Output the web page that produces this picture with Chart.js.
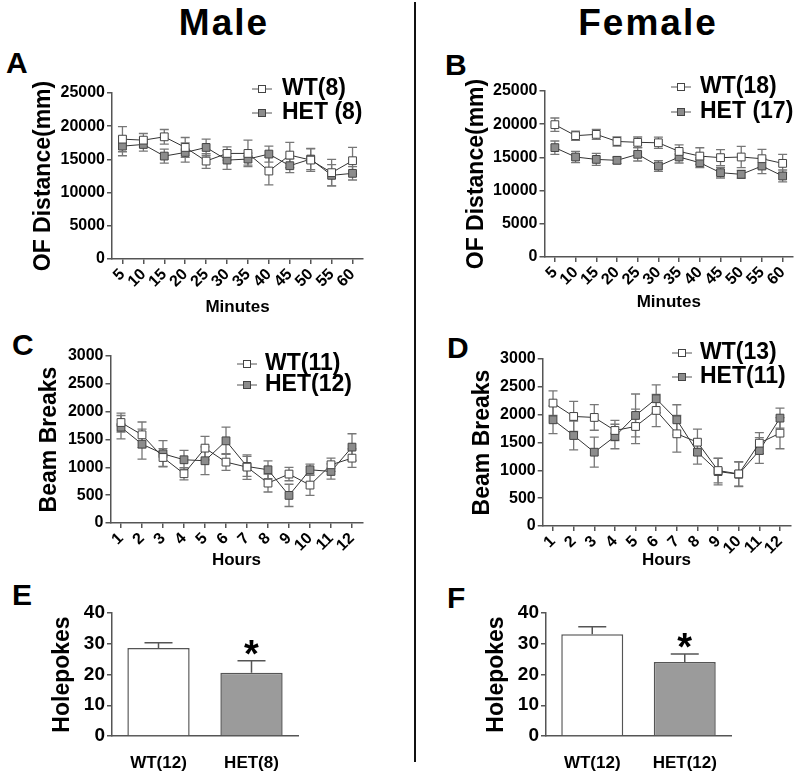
<!DOCTYPE html>
<html>
<head>
<meta charset="utf-8">
<script src="https://cdn.jsdelivr.net/npm/chart.js@4.4.1/dist/chart.umd.min.js"></script>
<style>
  body { margin: 0; background: #fff; }
  #page { position: relative; width: 800px; height: 776px; overflow: hidden; font-family: 'Liberation Sans', Arial, sans-serif; color: #000; }
  .title { position: absolute; width: 200px; text-align: center; font-weight: bold; font-size: 37px; line-height: 37px; letter-spacing: 2px; }
  .tag { position: absolute; font-weight: bold; font-size: 30px; line-height: 30px; }
  canvas { position: absolute; }
  #divider { position: absolute; left: 414px; top: 2px; width: 2px; height: 760px; background: #111; }
</style>
</head>
<body>
<div id="page">
  <div class="title" style="left:124px; top:4px;">Male</div>
  <div class="title" style="left:548px; top:4px;">Female</div>
  <div id="divider"></div>

  <div class="tag" style="left:6px; top:48px;">A</div>
  <div class="tag" style="left:445px; top:50px;">B</div>
  <div class="tag" style="left:12px; top:330px;">C</div>
  <div class="tag" style="left:447px; top:333px;">D</div>
  <div class="tag" style="left:12px; top:580px;">E</div>
  <div class="tag" style="left:447px; top:583px;">F</div>

  <canvas id="chartA" width="400" height="285" style="left:0; top:40px;"></canvas>
  <canvas id="chartB" width="400" height="285" style="left:400px; top:40px;"></canvas>
  <canvas id="chartC" width="400" height="245" style="left:0; top:330px;"></canvas>
  <canvas id="chartD" width="400" height="245" style="left:400px; top:330px;"></canvas>
  <canvas id="chartE" width="400" height="196" style="left:0; top:580px;"></canvas>
  <canvas id="chartF" width="400" height="196" style="left:400px; top:580px;"></canvas>
</div>

<script>
// --- Data ---
const minutes = ['5', '10', '15', '20', '25', '30', '35', '40', '45', '50', '55', '60'];
const hours = ['1', '2', '3', '4', '5', '6', '7', '8', '9', '10', '11', '12'];

// A: male open field
const wtA = [18050, 17900, 18400, 16800, 14750, 15900, 15900, 13250, 15650, 14900, 13000, 14800];
const wtAErr = [1900, 1000, 1100, 1500, 1100, 1000, 2000, 2100, 1900, 1700, 2000, 2000];
const hetA = [17000, 17250, 15500, 16050, 16800, 14900, 15050, 15800, 14050, 15050, 12600, 12900];
const hetAErr = [1450, 1000, 1050, 1450, 1250, 1400, 900, 1200, 1050, 1600, 1600, 1000];

// B: female open field
const wtB = [19930, 18270, 18470, 17400, 17270, 17200, 15900, 15200, 14960, 15060, 14800, 14100];
const wtBErr = [1000, 700, 750, 700, 800, 850, 1000, 1250, 1200, 1600, 1400, 1350];
const hetB = [16470, 15060, 14700, 14560, 15460, 13700, 15060, 14200, 12700, 12450, 13700, 12200];
const hetBErr = [1000, 850, 900, 500, 1000, 800, 900, 750, 800, 600, 1150, 900];

// C: male beam breaks
const wtC = [1805, 1584, 1177, 885, 1345, 1094, 1004, 717, 879, 681, 1046, 1165];
const wtCErr = [170, 230, 160, 110, 210, 150, 220, 160, 120, 185, 120, 165];
const hetC = [1721, 1416, 1243, 1136, 1118, 1476, 1016, 956, 496, 956, 926, 1363];
const hetCErr = [210, 270, 235, 167, 250, 245, 180, 160, 200, 100, 137, 240];

// D: female beam breaks
const wtD = [2208, 1968, 1950, 1716, 1788, 2076, 1656, 1506, 996, 936, 1488, 1668];
const wtDErr = [220, 270, 230, 180, 310, 290, 330, 235, 220, 220, 190, 280];
const hetD = [1908, 1626, 1326, 1608, 1986, 2286, 1908, 1326, 978, 930, 1356, 1938];
const hetDErr = [250, 260, 270, 220, 385, 250, 270, 215, 240, 220, 230, 180];

// E/F: holepokes
const groupsE = ['WT(12)', 'HET(8)'];
const pokesE = [28.6, 20.6];
const pokesEErr = [1.7, 3.9];
const groupsF = ['WT(12)', 'HET(12)'];
const pokesF = [33.1, 24.1];
const pokesFErr = [2.4, 2.6];
const starred = ['', '*'];

// --- Look ---
const AXIS = '#555';
const FONT = "'Liberation Sans', Arial, sans-serif";
Chart.defaults.font.family = FONT;
Chart.defaults.font.weight = 'bold';
Chart.defaults.color = '#000';
Chart.defaults.animation = false;

// error bars drawn behind the markers
const lineErrors = {
  id: 'lineErrors',
  beforeDatasetsDraw(chart) {
    const { ctx } = chart;
    const y = chart.scales.y;
    ctx.save();
    ctx.strokeStyle = '#777';
    ctx.lineWidth = 1.3;
    chart.data.datasets.forEach((ds, i) => {
      chart.getDatasetMeta(i).data.forEach((pt, j) => {
        const top = y.getPixelForValue(ds.data[j] + ds.errors[j]);
        const bot = y.getPixelForValue(ds.data[j] - ds.errors[j]);
        ctx.beginPath();
        ctx.moveTo(pt.x, top); ctx.lineTo(pt.x, bot);
        ctx.moveTo(pt.x - 4.5, top); ctx.lineTo(pt.x + 4.5, top);
        ctx.moveTo(pt.x - 4.5, bot); ctx.lineTo(pt.x + 4.5, bot);
        ctx.stroke();
      });
    });
    ctx.restore();
  }
};

// small legend: line + square + label
const miniLegend = {
  id: 'miniLegend',
  afterDraw(chart, args, opts) {
    if (!opts.rows) return;
    const { ctx } = chart;
    ctx.save();
    ctx.font = `bold 23px ${FONT}`;
    ctx.textBaseline = 'middle';
    chart.data.datasets.forEach((ds, i) => {
      const y = opts.rows[i];
      ctx.strokeStyle = '#555';
      ctx.lineWidth = 1;
      ctx.beginPath();
      ctx.moveTo(opts.x - 10, y); ctx.lineTo(opts.x + 10, y);
      ctx.stroke();
      ctx.fillStyle = ds.pointBackgroundColor;
      ctx.fillRect(opts.x - 3.5, y - 3.5, 7, 7);
      ctx.strokeStyle = '#444';
      ctx.strokeRect(opts.x - 3.5, y - 3.5, 7, 7);
      ctx.fillStyle = '#000';
      ctx.fillText(ds.label, opts.textX, y);
    });
    ctx.restore();
  }
};

// upward error bar + significance star on bars
const barErrors = {
  id: 'barErrors',
  afterDatasetsDraw(chart) {
    const { ctx } = chart;
    const y = chart.scales.y;
    const ds = chart.data.datasets[0];
    ctx.save();
    ctx.strokeStyle = '#555';
    ctx.lineWidth = 1.5;
    ctx.fillStyle = '#000';
    ctx.font = `bold 38px ${FONT}`;
    ctx.textAlign = 'center';
    ctx.textBaseline = 'alphabetic';
    chart.getDatasetMeta(0).data.forEach((bar, j) => {
      const top = y.getPixelForValue(ds.data[j] + ds.errors[j]);
      ctx.beginPath();
      ctx.moveTo(bar.x, bar.y); ctx.lineTo(bar.x, top);
      ctx.moveTo(bar.x - 14, top); ctx.lineTo(bar.x + 14, top);
      ctx.stroke();
      if (ds.marks[j]) ctx.fillText(ds.marks[j], bar.x, top + 6);
    });
    ctx.restore();
  }
};

function yAxis(max, step, text, look, tickSize) {
  return {
    min: 0, max: max,
    ticks: { stepSize: step, padding: 2, font: { size: tickSize, weight: 'bold' }, callback: v => String(v) },
    grid: { drawOnChartArea: false, tickLength: 5, color: AXIS, lineWidth: 1.5 },
    border: { color: AXIS, width: 1.5 },
    title: { display: true, text: text, font: { size: 23, weight: 'bold' }, padding: { top: look.yTitlePad, bottom: 0 } },
    afterFit: s => { s.width = look.yW; }
  };
}

function lineChart(id, labels, wt, wtErr, het, hetErr, names, yMax, step, yTitle, xTitle, look) {
  const point = { borderColor: '#333', borderWidth: 1, pointStyle: 'rect', pointRadius: 5.5, pointBorderColor: '#444', pointBorderWidth: 1 };
  return new Chart(document.getElementById(id), {
    type: 'line',
    data: {
      labels: labels,
      datasets: [
        { ...point, label: names[0], data: wt, errors: wtErr, pointBackgroundColor: '#fff' },
        { ...point, label: names[1], data: het, errors: hetErr, pointBackgroundColor: '#8c8c8c' }
      ]
    },
    options: {
      responsive: false,
      layout: { padding: { top: look.top, right: look.right, left: 0, bottom: 0 } },
      plugins: { legend: { display: false }, tooltip: { enabled: false }, miniLegend: look.legend },
      scales: {
        x: {
          offset: true,
          grid: { drawOnChartArea: false, tickLength: 5, color: AXIS, lineWidth: 1.5 },
          border: { color: AXIS, width: 1.5 },
          ticks: { autoSkip: false, minRotation: 45, maxRotation: 45, padding: 1, font: { size: 16, weight: 'bold' } },
          title: { display: true, text: xTitle, font: { size: 17, weight: 'bold' }, padding: { top: 0, bottom: look.xTitlePad } },
          afterFit: s => { s.height = look.xH; }
        },
        y: yAxis(yMax, step, yTitle, look, 16)
      }
    },
    plugins: [lineErrors, miniLegend]
  });
}

function barChart(id, groups, means, errs, look) {
  return new Chart(document.getElementById(id), {
    type: 'bar',
    data: {
      labels: groups,
      datasets: [{
        data: means, errors: errs, marks: starred,
        backgroundColor: ['#fff', '#9b9b9b'],
        borderColor: '#555', borderWidth: 1.5,
        barPercentage: 0.67, categoryPercentage: 1
      }]
    },
    options: {
      responsive: false,
      layout: { padding: { top: look.top, right: look.right, left: 0, bottom: 0 } },
      plugins: { legend: { display: false }, tooltip: { enabled: false } },
      scales: {
        x: {
          grid: { display: false, drawTicks: false },
          border: { display: true, color: AXIS, width: 1.5 },
          ticks: { padding: 17, font: { size: 17, weight: 'bold' } },
          afterFit: s => { s.height = look.xH; }
        },
        y: yAxis(40, 10, 'Holepokes', look, 19)
      }
    },
    plugins: [barErrors]
  });
}

lineChart('chartA', minutes, wtA, wtAErr, hetA, hetAErr, ['WT(8)', 'HET (8)'], 25000, 5000, 'OF Distance(mm)', 'Minutes',
  { top: 53, right: 37, yW: 112, xH: 66, yTitlePad: 30, xTitlePad: 7.8, legend: { x: 262, textX: 282, rows: [49, 73] } });
lineChart('chartB', minutes, wtB, wtBErr, hetB, hetBErr, ['WT(18)', 'HET (17)'], 25000, 5000, 'OF Distance(mm)', 'Minutes',
  { top: 51, right: 7, yW: 144.5, xH: 68, yTitlePad: 63, xTitlePad: 12.8, legend: { x: 281, textX: 300, rows: [47, 72] } });
lineChart('chartC', hours, wtC, wtCErr, hetC, hetCErr, ['WT(11)', 'HET(12)'], 3000, 500, 'Beam Breaks', 'Hours',
  { top: 26, right: 37.5, yW: 110.5, xH: 52, yTitlePad: 36, xTitlePad: 4.8, legend: { x: 247, textX: 265, rows: [34, 55] } });
lineChart('chartD', hours, wtD, wtDErr, hetD, hetDErr, ['WT(13)', 'HET(11)'], 3000, 500, 'Beam Breaks', 'Hours',
  { top: 29, right: 9.7, yW: 142.7, xH: 49, yTitlePad: 69, xTitlePad: 4.8, legend: { x: 282, textX: 300, rows: [23, 47] } });

barChart('chartE', groupsE, pokesE, pokesEErr, { top: 33, right: 102, yW: 112, xH: 40, yTitlePad: 49 });
barChart('chartF', groupsF, pokesF, pokesFErr, { top: 33, right: 69, yW: 146, xH: 40, yTitlePad: 83 });
</script>
</body>
</html>
